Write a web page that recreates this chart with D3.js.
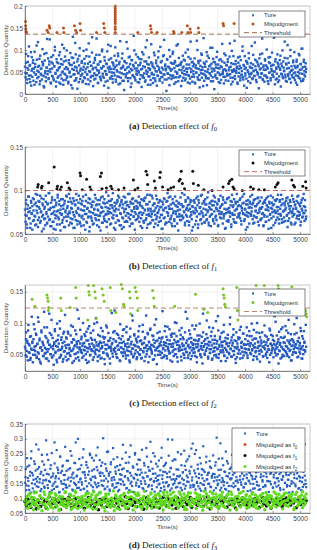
<!DOCTYPE html>
<html lang="en">
<head>
<meta charset="UTF-8">
<title>Detection effect</title>
<script src="https://d3js.org/d3.v7.min.js"></script>
<style>
    html, body { margin: 0; padding: 0; background: #fff; }
    svg { display: block; }
    .tick text { font-family: "Liberation Sans", Arial, sans-serif; font-size: 6.5px; fill: #444; }
    .lab { font-family: "Liberation Sans", Arial, sans-serif; font-size: 6.2px; fill: #444; }
    .leg { font-family: "Liberation Sans", Arial, sans-serif; font-size: 6px; fill: #333; }
    .cap { font-family: "Liberation Serif", "DejaVu Serif", serif; font-size: 9px; fill: #222; }
</style>
</head>
<body>
<div id="chart"></div>
<script>
// x axis ticks, shared by all four panels
const xTicks = [0, 500, 1000, 1500, 2000, 2500, 3000, 3500, 4000, 4500, 5000];
const lastTime = 5110;

// (a) f0 : correct detections (values in 1/1000), two sampling runs
const f0Ture = [
62,38,91,47,25,73,55,108,34,66,42,19,84,57,71,30,49,96,61,44,
27,78,53,118,39,64,22,87,46,58,33,102,69,41,15,76,52,29,93,60,
45,81,36,67,124,50,24,72,58,40,88,31,63,107,48,17,79,54,37,70,
59,26,95,43,68,35,112,51,21,74,46,85,32,61,99,40,56,28,77,48,
66,39,20,83,57,130,44,71,30,62,90,36,53,12,80,47,65,104,34,58,
42,75,27,55,98,38,69,50,23,86,45,61,33,115,52,73,29,64,41,94,
56,18,71,47,82,35,60,126,43,67,25,53,89,39,74,31,58,101,46,63,
37,84,52,28,69,44,97,60,14,78,50,35,109,57,41,72,26,65,48,87,
61,33,76,54,40,92,22,68,49,120,37,59,81,30,64,45,9,73,55,38,
70,47,103,29,62,51,85,36,57,24,77,43,66,132,39,58,31,90,52,44,
27,65,49,80,34,71,56,16,95,42,63,37,74,28,106,53,46,68,21,59,
83,40,57,32,113,48,69,25,61,44,88,35,52,76,19,64,41,97,55,30,
50,72,38,60,26,86,45,123,33,67,54,7,79,47,62,36,100,58,43,71,
34,56,91,42,69,23,75,51,38,110,46,64,29,82,55,40,66,18,73,48,
60,37,78,53,31,94,44,67,57,26,84,41,59,35,119,50,72,28,63,45,
39,81,24,65,48,58,100,33,70,43,15,76,54,92,37,61,46,127,30,68,
52,41,74,20,87,56,35,63,47,105,29,69,51,38,80,57,11,72,44,60,
36,96,49,67,27,58,43,79,32,61,114,46,55,24,71,39,88,53,65,42,
73,30,54,85,45,62,22,98,50,37,68,56,121,34,75,48,59,26,83,40,
57,64,31,77,43,52,108,38,66,19,86,47,60,35,73,54,29,93,45,62,
25,70,48,59,36,89,53,41,117,63,32,75,50,44,67,13,81,56,38,69,
47,92,34,61,55,28,79,42,65,101,37,58,23,72,49,84,31,64,52,43,
66,39,128,51,74,33,57,46,90,27,62,40,77,55,17,69,45,99,36,60,
53,82,44,30,67,58,111,41,71,35,49,86,26,63,54,38,76,47,95,32,
59,42,73,21,64,50,37,88,55,68,29,103,46,61,34,78,52,40,70,57
];
const f0TureB = [
48,71,33,59,86,42,64,27,95,53,39,77,58,21,68,45,110,36,62,50,
80,29,57,43,73,65,18,91,47,38,60,125,52,34,74,56,26,84,41,69,
35,63,99,46,28,72,54,40,88,61,23,79,49,67,31,104,57,44,76,37,
58,24,70,51,93,39,66,13,82,55,45,116,32,60,74,48,27,87,53,42,
71,46,30,62,80,36,57,101,44,69,22,85,50,38,64,129,41,59,33,77,
43,89,54,25,67,48,73,35,59,97,40,63,19,76,52,45,68,30,112,56,
62,37,81,49,34,70,57,42,106,28,65,51,86,39,73,24,58,47,92,61,
30,75,55,44,118,60,36,83,49,68,16,77,54,41,63,99,35,71,46,58,
84,52,26,66,43,79,57,38,90,47,61,31,74,122,50,40,67,55,21,72,
45,64,36,94,58,29,70,51,42,83,60,34,107,48,75,39,56,88,44,63,
57,33,78,46,61,20,85,53,40,69,96,37,59,72,27,64,49,113,38,66,
41,70,54,30,87,62,45,76,35,58,50,101,43,67,24,80,56,39,73,52,
68,26,60,49,121,38,75,57,32,64,47,89,55,18,71,44,62,36,95,50,
36,82,47,65,42,58,105,29,73,53,40,67,84,35,59,48,77,25,63,45,
74,50,39,92,56,31,66,46,79,43,60,115,37,70,54,28,86,52,41,68,
53,62,23,71,48,85,37,59,44,98,33,64,57,42,75,14,69,50,81,39,
60,45,109,34,67,52,41,78,55,27,72,47,63,38,90,58,46,126,32,65,
42,76,55,39,61,29,83,48,70,36,57,94,44,66,51,22,79,60,35,71,
67,31,58,87,46,63,40,74,52,119,38,69,28,81,45,59,34,100,53,43,
55,72,37,64,49,26,78,61,41,91,47,35,68,56,103,30,73,44,62,50
];
const f0MisTime = [10,12,15,20,25,400,420,440,450,580,700,705,900,920,940,1000,1010,1300,1430,1440,1450,
  1640,1640,1640,1640,1640,1640,1640,1640,1640,1640,1640,1640,
  2050,2280,2290,2300,2400,2700,2710,2850,2950,2960,3000,3010,3150,3160,3600,3610,3800];
const f0MisValue = [0.165,0.155,0.148,0.142,0.14,0.145,0.14,0.155,0.15,0.14,0.15,0.14,0.155,0.145,0.14,0.16,0.145,0.14,0.16,0.15,0.14,
  0.14,0.147,0.153,0.16,0.165,0.17,0.175,0.18,0.185,0.19,0.195,0.2,
  0.14,0.155,0.148,0.14,0.14,0.142,0.138,0.14,0.155,0.14,0.148,0.14,0.15,0.14,0.16,0.155,0.16];

// (b) f1
const f1Ture = [
78,64,89,71,57,83,75,93,68,80,62,86,73,55,91,77,66,84,70,96,
61,82,74,58,88,69,79,94,65,76,53,85,72,90,67,81,60,87,75,63,
84,70,97,66,78,59,86,73,92,64,81,56,76,89,68,83,71,61,95,77,
67,88,74,54,82,72,63,90,79,69,85,58,77,94,65,80,73,87,60,76,
91,68,80,62,85,75,57,88,70,83,66,96,74,61,79,86,72,64,90,78,
59,84,71,93,67,77,82,55,88,73,63,80,69,91,76,58,85,70,81,65,
87,74,62,79,95,68,83,72,60,89,77,66,84,71,54,92,75,80,63,86,
70,90,65,81,73,58,86,76,94,67,79,61,88,74,83,69,97,72,57,82,
76,63,85,71,89,66,78,92,60,84,73,87,56,80,68,93,75,64,86,79,
65,83,74,96,69,81,59,87,72,77,90,62,85,70,79,55,88,73,82,67,
80,71,93,64,86,75,68,82,57,89,74,63,91,78,66,84,72,95,61,77,
73,87,62,79,70,94,66,83,76,58,85,72,80,67,90,74,60,86,78,69,
88,65,81,72,56,84,77,91,69,80,63,87,75,97,71,82,64,79,93,68,
62,79,90,74,85,67,59,83,76,88,70,81,54,86,73,78,92,66,84,71,
81,69,76,95,63,87,72,80,65,92,77,60,84,70,89,75,67,82,58,88,
74,86,61,78,91,70,83,57,89,73,80,66,94,76,62,85,71,79,87,64,
90,72,84,67,75,98,63,81,70,86,59,78,73,88,65,83,76,92,69,80,
66,85,77,60,88,73,80,94,68,75,84,62,89,71,79,56,86,74,65,91,
79,64,92,76,70,83,58,87,74,81,67,90,72,63,85,78,96,69,82,73,
71,89,68,82,61,77,93,74,86,65,79,72,55,88,75,84,70,80,62,87,
85,73,80,95,67,86,71,63,90,76,82,69,84,74,92,60,78,88,66,79,
68,81,74,59,87,72,89,78,64,83,70,93,77,66,85,73,80,57,86,75,
92,70,84,77,63,88,75,81,69,95,73,62,87,79,71,83,67,90,76,64,
77,86,65,80,91,72,58,85,74,68,89,76,82,61,94,70,79,87,73,83,
63,80,88,71,76,94,67,84,72,60,86,79,69,91,74,82,65,89,77,70
];
const f1TureB = [
72,85,61,79,93,68,76,57,88,74,82,65,90,71,60,86,77,95,66,81,
87,63,75,91,70,83,56,79,68,94,73,62,85,78,97,67,80,59,89,74,
64,81,72,55,86,76,92,69,84,61,78,90,73,66,83,58,88,75,70,93,
82,70,96,74,63,87,79,67,91,72,57,84,76,89,65,80,94,71,62,85,
69,88,77,60,82,73,95,64,79,86,70,53,90,75,68,83,61,87,78,72,
91,66,84,78,71,58,89,74,81,63,93,76,67,85,72,98,64,80,73,88,
75,83,62,90,80,68,77,86,55,79,71,87,94,65,82,74,60,89,69,84,
58,78,92,71,87,64,83,73,96,67,85,62,76,91,70,81,75,66,88,79,
86,69,74,83,59,90,72,80,65,88,77,92,68,57,84,79,71,95,63,76,
73,91,66,85,77,62,94,70,82,75,64,89,81,72,56,87,78,68,90,61,
80,63,88,74,92,79,67,84,71,59,86,76,65,93,73,82,62,77,85,70,
66,84,71,97,68,82,75,60,89,78,70,83,91,64,79,87,72,54,81,76,
89,74,80,65,76,93,61,86,73,81,67,95,74,70,88,63,84,78,66,92,
77,60,85,79,72,88,83,67,94,62,87,71,79,84,59,90,76,69,82,73,
84,92,68,73,86,57,78,90,75,66,80,74,88,61,95,72,83,64,77,87,
63,79,87,70,83,74,91,65,80,85,73,96,67,78,84,71,58,89,74,81,
93,71,76,84,62,89,70,82,77,69,91,64,86,75,80,67,92,73,85,60,
70,86,64,91,78,81,56,87,72,94,68,79,83,60,76,89,74,66,90,77,
81,67,89,73,95,63,85,76,69,83,78,88,71,92,65,82,79,87,63,74,
76,90,72,61,84,79,68,93,86,71,75,82,64,89,77,70,96,74,81,67
];
const f1MisTime = [230,240,300,310,430,530,580,590,640,660,770,800,820,1000,1010,1040,1120,1180,1200,1370,1390,1400,
  1480,1560,1580,1700,1800,1970,2000,2050,2200,2220,2230,2350,2370,2450,2460,2500,2600,2650,2700,2800,2820,2840,2860,2900,
  3050,3060,3150,3250,3400,3600,3700,3720,3760,3780,3800,3950,4100,4150,4250,4350,4550,4580,4600,4850,4880,4900,5050,5100,5110];
const f1MisValue = [0.104,0.107,0.103,0.105,0.109,0.127,0.102,0.105,0.101,0.104,0.109,0.103,0.101,0.12,0.117,0.101,0.113,0.104,0.101,0.116,0.12,0.102,
  0.103,0.105,0.102,0.101,0.103,0.112,0.101,0.103,0.122,0.118,0.107,0.111,0.103,0.115,0.121,0.104,0.101,0.103,0.104,0.111,0.113,0.122,0.108,0.102,
  0.122,0.108,0.106,0.101,0.1,0.104,0.108,0.111,0.113,0.104,0.102,0.1,0.104,0.102,0.101,0.101,0.104,0.107,0.109,0.112,0.106,0.104,0.105,0.11,0.103];

// (c) f2
const f2Ture = [
62,48,85,55,71,40,97,66,52,78,44,59,110,68,37,74,57,90,49,63,
81,46,67,53,102,42,75,60,35,88,56,70,47,64,118,51,79,43,58,93,
54,72,39,65,84,50,61,105,45,76,58,33,69,87,52,63,41,99,73,56,
67,44,91,57,49,77,62,38,83,54,70,113,46,60,75,51,86,42,65,58,
48,80,55,69,36,94,59,73,50,64,43,82,66,121,53,71,40,61,89,57,
74,52,63,100,47,68,56,79,41,86,60,54,72,38,95,62,49,76,58,67,
55,88,45,61,73,50,108,64,57,39,81,66,48,70,59,92,44,63,78,53,
69,42,77,58,96,51,65,47,84,60,72,35,62,55,116,68,46,74,56,87,
60,71,50,83,44,64,57,76,40,98,61,53,68,79,47,58,90,52,66,43,
85,56,67,48,74,62,37,91,54,70,59,104,45,65,80,51,63,75,42,69,
53,78,61,95,49,57,72,44,66,86,55,68,39,77,60,112,50,64,82,58,
70,46,89,59,65,54,80,41,73,62,97,48,57,71,34,84,61,55,76,67,
49,64,75,52,119,60,45,69,87,56,63,78,43,94,58,66,51,72,40,81,
62,83,54,67,47,73,101,58,50,79,65,38,70,55,88,61,74,46,92,57,
77,51,64,44,85,59,68,53,107,63,48,75,60,82,42,69,56,96,65,52,
58,90,47,72,61,37,80,66,55,74,99,50,63,45,78,57,115,62,71,49,
66,55,82,60,76,43,64,93,52,69,58,86,41,73,54,67,48,79,61,103,
45,71,59,88,50,65,74,56,39,84,62,70,53,97,47,60,76,57,68,44,
81,63,52,68,109,58,46,77,64,55,90,49,72,61,36,85,59,67,51,74,
57,76,43,94,62,70,54,83,48,66,59,117,65,52,80,44,71,58,87,63,
68,50,79,56,73,41,89,61,67,53,75,46,100,60,69,55,84,38,64,72,
54,85,62,47,70,96,58,65,51,78,44,63,74,57,91,49,67,81,56,60,
73,59,66,111,52,64,48,80,61,70,35,86,55,68,77,62,45,93,58,69,
47,78,55,63,88,50,72,59,105,45,66,57,82,40,74,64,53,69,98,61,
65,52,84,60,71,46,76,54,68,92,58,43,79,63,50,87,70,56,114,62
];
const f2TureB = [
59,74,46,68,88,53,64,41,79,57,70,49,98,62,55,83,44,66,109,51,
72,38,61,85,56,67,47,93,60,52,76,43,69,58,115,65,50,81,45,63,
48,66,90,54,71,37,62,80,57,103,46,73,59,68,42,86,55,64,77,40,
65,83,52,60,47,96,69,56,74,39,63,88,51,70,61,45,107,58,67,54,
78,44,67,57,82,62,50,72,36,91,59,66,48,84,56,73,41,64,99,53,
57,69,101,46,63,55,79,43,68,60,87,52,75,34,65,58,93,49,71,62,
43,76,59,66,51,85,58,120,54,70,45,63,81,57,68,39,74,60,52,89,
70,54,63,48,94,61,73,55,40,78,66,50,112,59,47,82,64,56,72,45,
62,87,50,71,58,43,67,97,53,60,75,46,64,55,84,37,69,61,91,57,
51,64,79,42,68,56,106,60,72,49,63,86,54,70,44,77,58,65,48,95,
68,47,73,61,55,90,52,66,78,38,62,57,83,50,69,100,45,71,59,64,
56,81,40,67,63,74,49,58,118,54,72,44,65,88,52,61,76,47,67,60,
73,53,66,96,45,62,71,57,80,48,59,68,35,85,63,51,74,56,104,66,
46,70,58,52,79,64,43,92,60,55,73,49,67,58,111,44,62,78,53,69,
64,57,86,48,71,39,66,54,75,63,50,98,59,72,46,68,81,55,61,42,
71,45,62,77,56,89,51,68,60,44,83,65,53,74,58,93,48,66,57,79,
52,67,99,58,64,47,75,61,55,85,42,70,63,50,77,57,68,117,46,62,
60,80,48,69,54,73,58,37,88,66,52,64,79,45,71,56,102,59,67,50,
74,56,65,43,90,61,49,76,57,68,95,53,62,47,84,69,55,72,40,63,
49,72,58,82,53,66,108,45,70,59,64,51,87,61,43,75,57,68,54,97
];
const f2MisTime = [130,180,400,410,420,430,425,650,660,820,920,930,1150,1160,1170,1140,1250,1270,1280,1290,1400,1420,1440,
  1550,1560,1650,1750,1770,1790,1800,1900,1910,1920,2000,2020,2040,2050,2320,2340,2350,2720,3100,3250,3320,
  3600,3610,3620,3630,3640,3850,3860,3870,4200,4350,4600,4610,4850,5100,5110,5120];
const f2MisValue = [0.138,0.127,0.145,0.14,0.135,0.125,0.12,0.14,0.12,0.125,0.157,0.14,0.16,0.15,0.145,0.105,0.16,0.15,0.14,0.107,0.155,0.145,0.135,
  0.157,0.12,0.117,0.162,0.155,0.13,0.127,0.15,0.14,0.115,0.157,0.15,0.14,0.12,0.152,0.14,0.127,0.127,0.146,0.122,0.117,
  0.155,0.145,0.14,0.13,0.126,0.157,0.12,0.105,0.16,0.16,0.16,0.155,0.158,0.12,0.115,0.11];

// (d) f3
const f3Ture = [
152,198,127,235,168,141,210,176,119,258,185,133,162,224,147,193,281,156,171,138,
205,164,124,189,246,150,177,213,135,160,295,182,144,229,158,120,199,170,252,142,
183,131,217,155,174,262,139,195,166,121,240,186,149,207,130,178,161,273,145,192,
136,226,169,114,201,157,243,180,126,167,219,148,288,173,134,196,154,232,163,128,
211,146,187,265,132,179,158,222,140,203,117,190,250,165,143,236,172,125,197,153,
168,244,137,194,151,118,228,175,209,144,184,302,159,130,215,166,192,139,257,176,
129,188,221,160,142,269,171,135,204,182,150,238,123,195,163,212,147,178,233,156,
200,145,174,254,133,191,167,220,127,185,278,155,141,207,169,120,247,181,152,214,
162,230,138,179,196,148,263,170,131,218,157,186,124,240,173,205,144,192,290,165,
142,199,252,158,122,183,216,137,175,161,227,149,194,134,270,177,153,208,128,188,
219,154,171,140,243,189,126,202,163,297,146,180,231,159,136,197,174,255,150,121,
176,135,211,166,187,147,260,132,195,224,156,170,119,241,183,143,206,160,284,138,
193,249,129,173,155,213,140,182,236,151,125,198,167,275,145,188,133,221,164,178,
148,186,225,139,202,169,118,244,157,181,210,134,304,172,149,233,161,127,196,154,
234,160,143,190,131,257,175,152,217,123,184,166,203,141,246,179,137,192,266,158,
171,207,153,128,239,162,194,145,183,227,136,176,286,150,214,168,124,201,157,185,
126,177,261,164,148,198,133,222,173,155,242,190,142,209,130,180,253,161,138,204,
189,144,206,172,293,158,121,215,182,147,196,268,135,170,229,153,186,139,248,167,
157,223,134,187,163,241,175,129,200,151,276,178,144,212,162,119,237,184,149,195,
208,152,180,259,140,193,166,226,132,174,158,218,127,245,169,189,146,282,160,137
];
const f3TureB = [
171,143,206,158,128,189,234,150,177,122,215,165,140,198,264,153,182,131,224,160,
139,195,162,247,134,180,155,211,126,174,149,288,167,138,203,185,119,240,157,192,
210,148,178,136,226,163,197,142,259,170,129,186,152,218,144,176,300,135,199,166,
154,237,131,188,169,212,123,179,150,245,161,193,137,227,173,146,205,271,141,184,
187,159,220,141,175,132,200,256,156,183,125,214,168,147,231,162,190,138,208,151,
128,181,163,197,280,145,172,219,134,191,160,239,149,176,121,203,166,252,143,178,
196,140,229,157,186,134,167,210,148,269,174,139,194,162,223,130,182,155,241,168,
158,207,146,177,124,236,165,189,139,213,152,183,298,144,171,201,133,226,164,150,
230,165,138,196,173,152,248,127,187,161,209,142,176,231,155,192,136,267,170,145,
143,184,262,151,199,168,132,217,178,146,194,158,126,240,163,185,149,206,137,175,
182,126,170,221,160,144,195,177,285,135,168,211,154,188,129,225,173,141,198,163,
167,213,150,185,141,277,160,131,205,174,153,233,164,137,196,148,180,258,159,188,
149,194,173,132,218,165,187,144,202,128,249,171,192,156,174,210,140,183,157,230,
205,156,185,244,136,179,150,229,167,196,143,181,127,214,162,172,292,152,186,139,
162,178,141,203,157,121,190,168,146,218,184,256,134,170,199,155,138,212,176,148
];
const f3AsF1 = [
88,75,96,82,69,101,91,78,64,94,85,72,99,80,93,67,87,104,76,90,
83,97,71,92,86,62,100,79,95,74,89,103,81,68,94,77,98,84,73,91,
96,80,66,93,87,102,75,90,83,70,97,85,61,95,78,92,88,99,72,86,
79,94,89,74,100,84,68,96,91,77,87,105,82,65,93,98,76,90,85,71,
92,86,78,97,63,89,101,81,94,75,88,70,99,84,92,67,95,80,103,87,
74,98,90,83,77,95,86,66,100,89,81,93,72,97,85,79,91,102,69,88,
95,82,76,91,99,87,73,94,80,104,90,64,86,97,78,93,84,71,96,89,
85,93,101,70,88,79,96,92,83,67,98,87,75,90,100,81,94,77,86,92,
90,76,87,98,84,94,69,89,102,80,91,74,97,85,66,95,88,82,99,78,
97,89,72,95,81,100,86,93,77,90,84,96,68,92,103,79,87,94,83,91
];
const f3AsF2 = [
92,78,105,66,88,115,73,97,82,61,101,86,120,75,94,69,108,84,58,99,
80,112,71,95,63,103,87,76,118,90,67,98,83,110,72,93,59,106,79,89,
104,74,91,122,68,85,100,77,113,62,96,81,107,70,119,88,65,102,84,95,
71,99,86,60,109,79,93,116,74,90,103,67,87,121,78,97,64,111,82,92,
117,83,70,101,89,57,106,94,76,114,85,69,98,80,124,73,91,104,66,87,
96,62,108,81,93,112,75,88,102,68,119,90,77,105,84,60,99,115,72,94,
85,110,73,97,64,100,87,123,79,92,70,107,83,95,118,66,89,103,78,111,
69,94,116,82,104,74,91,61,109,86,98,120,72,88,80,113,95,63,101,84,
107,79,89,67,121,93,76,102,85,114,71,97,62,108,90,81,117,74,96,87,
91,118,65,103,83,96,110,73,88,59,106,92,80,115,69,99,86,122,77,100,
78,102,93,114,71,88,64,109,97,82,120,75,95,68,104,89,113,83,60,98,
112,86,74,96,105,63,91,80,117,70,100,87,123,77,93,108,66,94,81,106,
84,97,119,72,90,111,79,101,65,95,85,107,73,116,88,61,103,92,110,76,
99,67,106,88,78,121,94,70,104,83,113,76,98,86,64,109,91,79,118,93,
73,108,82,100,115,87,62,97,89,120,74,103,81,95,111,68,90,105,85,114
];
const f3AsF2B = [
96,84,111,72,103,89,118,78,92,65,107,86,99,121,74,95,82,113,69,101,
88,115,76,98,62,104,90,81,119,73,97,85,109,67,93,124,79,102,87,71,
106,80,94,117,70,99,84,112,63,96,108,77,91,120,86,100,68,114,83,95,
74,101,89,58,111,93,78,105,97,82,116,66,90,103,79,122,87,98,72,109,
118,85,97,73,106,91,64,100,88,114,76,95,104,81,69,110,93,83,119,77,
92,108,68,99,86,120,79,103,94,71,112,84,97,62,105,89,117,75,100,90,
81,96,113,77,102,87,70,123,91,83,107,98,66,115,80,94,104,88,73,111,
103,72,90,109,84,97,121,76,99,86,61,106,93,118,78,101,85,112,95,70,
89,114,80,95,67,104,92,110,74,98,87,119,82,100,108,71,96,84,115,91,
97,78,105,88,116,75,93,101,83,109,94,68,112,90,79,103,86,122,76,99
];
const f3AsF0Time = [350,820,1270,1900,2450,3050,3600,4150,4700,5000];
const f3AsF0Value = [0.088,0.095,0.082,0.099,0.091,0.085,0.093,0.097,0.080,0.090];

const W = 317, H = 550;
const left = 25, right = 310;

const svg = d3.select("#chart").append("svg")
    .attr("width", W)
    .attr("height", H);

const x = d3.scaleLinear().domain([0, 5180]).range([left, right]);

// evenly sampled series over the time range (values given in 1/1000)
function series(vals, offset) {
    const step = lastTime / (vals.length - 1 + (offset || 0));
    return vals.map((v, i) => ({ t: (i + (offset || 0) / 2) * step, v: v / 1000 }));
}
function pairs(ts, vs) {
    return ts.map((t, i) => ({ t: t, v: vs[i] }));
}

const blue = "#2660c2";

const panels = [
    { top: 6, bottom: 94, yDomain: [0, 0.2], yTicks: [0, 0.05, 0.1, 0.15, 0.2], letter: "a", sub: "0",
      threshold: 0.136, thrColor: "#9a5a34",
      layers: [
        { data: series(f0Ture).concat(series(f0TureB, 1)), color: blue, size: 2.4 },
        { data: pairs(f0MisTime, f0MisValue), color: "#b8531f", r: 1.5 }
      ],
      legend: { x0: 239, x1: 305, y0: 11, y1: 37, rows: [
        { kind: "sq", color: blue, text: "Ture" },
        { kind: "dot", color: "#b8531f", text: "Misjudgment" },
        { kind: "dash", color: "#9a5a34", text: "Threshold" }
      ]}
    },
    { top: 147, bottom: 234, yDomain: [0.05, 0.15], yTicks: [0.05, 0.1, 0.15], letter: "b", sub: "1",
      threshold: 0.1, thrColor: "#c65848",
      layers: [
        { data: series(f1Ture).concat(series(f1TureB, 1)), color: blue, size: 2.4 },
        { data: pairs(f1MisTime, f1MisValue), color: "#111", r: 1.5 }
      ],
      legend: { x0: 239, x1: 305, y0: 150, y1: 176, rows: [
        { kind: "sq", color: blue, text: "Ture" },
        { kind: "dot", color: "#111", text: "Misjudgment" },
        { kind: "dash", color: "#c65848", text: "Threshold" }
      ]}
    },
    { top: 285, bottom: 371, yDomain: [0.023, 0.161], yTicks: [0.05, 0.1, 0.15], letter: "c", sub: "2",
      threshold: 0.124, thrColor: "#b07a5a",
      layers: [
        { data: series(f2Ture).concat(series(f2TureB, 1)), color: "#2358c0", size: 2.4 },
        { data: pairs(f2MisTime, f2MisValue), color: "#7cc42a", r: 1.5 }
      ],
      legend: { x0: 239, x1: 305, y0: 289, y1: 316, rows: [
        { kind: "sq", color: "#2358c0", text: "Ture" },
        { kind: "dot", color: "#7cc42a", text: "Misjudgment" },
        { kind: "dash", color: "#b07a5a", text: "Threshold" }
      ]}
    },
    { top: 424, bottom: 513, yDomain: [0.05, 0.35], yTicks: [0.05, 0.1, 0.15, 0.2, 0.25, 0.3, 0.35], letter: "d", sub: "3",
      threshold: null,
      layers: [
        { data: series(f3Ture).concat(series(f3TureB, 1)), color: blue, size: 2.2 },
        { data: pairs(f3AsF0Time, f3AsF0Value), color: "#d95319", r: 1.5 },
        { data: series(f3AsF1), color: "#111", r: 1.8 },
        { data: series(f3AsF2).concat(series(f3AsF2B, 1)), color: "#5fdc1e", r: 1.7 }
      ],
      legend: { x0: 232, x1: 305, y0: 428, y1: 472, rows: [
        { kind: "sq", color: blue, text: "Ture" },
        { kind: "dot", color: "#d95319", text: "Misjudged as f", sub: "0" },
        { kind: "dot", color: "#111", text: "Misjudged as f", sub: "1" },
        { kind: "dot", color: "#5fdc1e", text: "Misjudged as f", sub: "2" }
      ]}
    }
];

panels.forEach(p => {
    const y = d3.scaleLinear().domain(p.yDomain).range([p.bottom, p.top]);
    const g = svg.append("g");

    // grid
    g.append("g").selectAll("line").data(xTicks).join("line")
        .attr("x1", d => x(d)).attr("x2", d => x(d))
        .attr("y1", p.top).attr("y2", p.bottom)
        .attr("stroke", "#e4e4e4").attr("stroke-width", 0.5);
    g.append("g").selectAll("line").data(p.yTicks).join("line")
        .attr("x1", left).attr("x2", right)
        .attr("y1", d => y(d)).attr("y2", d => y(d))
        .attr("stroke", "#e4e4e4").attr("stroke-width", 0.5);

    // points
    p.layers.forEach(l => {
        if (l.size) {
            g.append("g").selectAll("rect").data(l.data).join("rect")
                .attr("x", d => x(d.t) - l.size / 2)
                .attr("y", d => y(d.v) - l.size / 2)
                .attr("width", l.size).attr("height", l.size)
                .attr("fill", l.color);
        } else {
            g.append("g").selectAll("circle").data(l.data).join("circle")
                .attr("cx", d => x(d.t))
                .attr("cy", d => y(d.v))
                .attr("r", l.r)
                .attr("fill", l.color);
        }
    });

    if (p.threshold !== null) {
        g.append("line")
            .attr("x1", left).attr("x2", right)
            .attr("y1", y(p.threshold)).attr("y2", y(p.threshold))
            .attr("stroke", p.thrColor).attr("stroke-width", 0.9)
            .attr("stroke-dasharray", "5,3");
    }

    // frame
    g.append("rect")
        .attr("x", left).attr("y", p.top)
        .attr("width", right - left).attr("height", p.bottom - p.top)
        .attr("fill", "none").attr("stroke", "#999").attr("stroke-width", 0.5);

    // axes
    const xa = g.append("g").attr("transform", `translate(0,${p.bottom})`)
        .call(d3.axisBottom(x).tickValues(xTicks).tickSizeInner(-2).tickSizeOuter(0).tickPadding(3).tickFormat(d3.format("d")));
    const ya = g.append("g").attr("transform", `translate(${left},0)`)
        .call(d3.axisLeft(y).tickValues(p.yTicks).tickSizeInner(-2).tickSizeOuter(0).tickPadding(2).tickFormat(d => d === 0 ? "0" : String(d)));
    [xa, ya].forEach(a => {
        a.select(".domain").attr("stroke", "#444").attr("stroke-width", 0.6);
        a.selectAll(".tick line").attr("stroke", "#444").attr("stroke-width", 0.5);
    });

    g.append("text").attr("class", "lab")
        .attr("x", (left + right) / 2).attr("y", p.bottom + 15.5)
        .attr("text-anchor", "middle").text("Time(s)");
    g.append("text").attr("class", "lab")
        .attr("transform", `translate(8,${(p.top + p.bottom) / 2}) rotate(-90)`)
        .attr("text-anchor", "middle").text("Detection Quantity");

    // legend
    const L = p.legend;
    const lg = g.append("g");
    lg.append("rect")
        .attr("x", L.x0).attr("y", L.y0)
        .attr("width", L.x1 - L.x0).attr("height", L.y1 - L.y0)
        .attr("fill", "#fff").attr("stroke", "#333").attr("stroke-width", 0.6);
    const rowH = (L.y1 - L.y0) / L.rows.length;
    const mx = L.x0 + (L.x1 - L.x0 > 70 ? 13 : 14);
    L.rows.forEach((r, i) => {
        const cy = L.y0 + rowH * (i + 0.5);
        if (r.kind === "sq") {
            lg.append("rect").attr("x", mx - 1).attr("y", cy - 1).attr("width", 2).attr("height", 2).attr("fill", r.color);
        } else if (r.kind === "dot") {
            lg.append("circle").attr("cx", mx).attr("cy", cy).attr("r", 1.5).attr("fill", r.color);
        } else {
            lg.append("line").attr("x1", mx - 9).attr("x2", mx + 9).attr("y1", cy).attr("y2", cy)
                .attr("stroke", r.color).attr("stroke-width", 0.9).attr("stroke-dasharray", "5,3");
        }
        const t = lg.append("text").attr("class", "leg")
            .attr("x", mx + 11).attr("y", cy + 2.1).text(r.text);
        if (r.sub) {
            t.append("tspan").attr("dy", 2).attr("font-size", "4.5px").text(r.sub);
        }
    });

    // caption
    const cap = svg.append("text").attr("class", "cap")
        .attr("x", 173).attr("y", p.bottom + 35).attr("text-anchor", "middle");
    cap.append("tspan").attr("font-weight", "bold").text(`(${p.letter})`);
    cap.append("tspan").text(" Detection effect of ");
    cap.append("tspan").attr("font-style", "italic").text("f");
    cap.append("tspan").attr("dy", 2).attr("font-size", "6.5px").text(p.sub);
});
</script>
</body>
</html>
